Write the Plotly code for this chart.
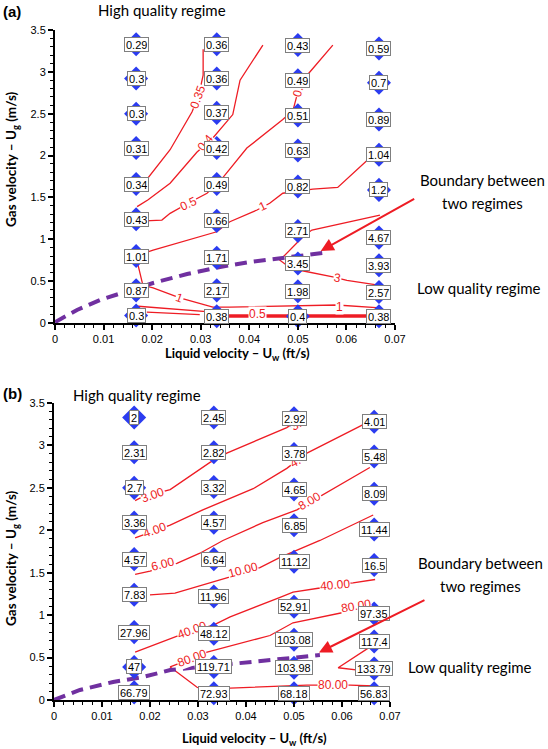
import plotly.graph_objects as go

W, H = 548, 749

# ---------------- data ----------------
UL = [0.0167, 0.0333, 0.05, 0.0667]          # liquid velocity of each column (ft/s)
UG_COL1 = [3.33, 2.92, 2.50, 2.09, 1.66, 1.24, 0.80, 0.39, 0.09]
UG_COL2 = [3.33, 2.92, 2.51, 2.09, 1.66, 1.22, 0.78, 0.39, 0.08]
UG_COL3 = [3.32, 2.90, 2.48, 2.06, 1.63, 1.10, 0.71, 0.38, 0.08]
UG_COL4 = [3.28, 2.87, 2.43, 2.01, 1.59, 1.02, 0.69, 0.37, 0.08]
UG = [UG_COL1, UG_COL2, UG_COL3, UG_COL4]

A_COL1 = [0.29, 0.3, 0.3, 0.31, 0.34, 0.43, 1.01, 0.87, 0.3]
A_COL2 = [0.36, 0.36, 0.37, 0.42, 0.49, 0.66, 1.71, 2.17, 0.38]
A_COL3 = [0.43, 0.49, 0.51, 0.63, 0.82, 2.71, 3.45, 1.98, 0.4]
A_COL4 = [0.59, 0.7, 0.89, 1.04, 1.2, 4.67, 3.93, 2.57, 0.38]
A_VALUES = [A_COL1, A_COL2, A_COL3, A_COL4]

B_COL1 = [2, 2.31, 2.7, 3.36, 4.57, 7.83, 27.96, 47, 66.79]
B_COL2 = [2.45, 2.82, 3.32, 4.57, 6.64, 11.96, 48.12, 119.71, 72.93]
B_COL3 = [2.92, 3.78, 4.65, 6.85, 11.12, 52.91, 103.08, 103.98, 68.18]
B_COL4 = [4.01, 5.48, 8.09, 11.44, 16.5, 97.35, 117.4, 133.79, 56.83]
B_VALUES = [B_COL1, B_COL2, B_COL3, B_COL4]

# contour lines, panel (a)
A_C035_X = [0.0305, 0.0305, 0.0296, 0.0282, 0.0237, 0.0191, 0.0181]
A_C035_Y = [3.27, 2.96, 2.72, 2.52, 2.07, 1.73, 1.70]
A_C04_X = [0.0428, 0.0381, 0.0366, 0.0325, 0.0292, 0.0237, 0.0191, 0.0169]
A_C04_Y = [3.32, 2.90, 2.49, 2.21, 2.04, 1.67, 1.47, 1.39]
A_C05_X = [0.0572, 0.0519, 0.0500, 0.0490, 0.0469, 0.0395, 0.0346, 0.0313, 0.0274, 0.0237, 0.0220, 0.0185]
A_C05_Y = [3.32, 2.96, 2.76, 2.54, 2.43, 2.09, 1.74, 1.55, 1.43, 1.31, 1.23, 1.22]
A_C1_X = [0.0644, 0.0582, 0.0531, 0.0469, 0.0442, 0.0416, 0.0360, 0.0333, 0.0202, 0.0171, 0.0171,
          0.0181, 0.0202, 0.0257, 0.0325, 0.0360, 0.0580, 0.0669]
A_C1_Y = [1.95, 1.62, 1.60, 1.55, 1.43, 1.35, 1.21, 1.09, 0.87, 0.81, 0.69,
          0.45, 0.42, 0.30, 0.19, 0.19, 0.215, 0.18]
A_C3_X = [0.0669, 0.0529, 0.0514, 0.0463, 0.0477, 0.0504, 0.0572, 0.0601, 0.0669]
A_C3_Y = [1.29, 1.11, 1.05, 0.75, 0.69, 0.63, 0.55, 0.51, 0.45]
A_CLOW1_X = [0.0171, 0.0325]
A_CLOW1_Y = [0.20, 0.13]
A_CLOW2_X = [0.0189, 0.0298]
A_CLOW2_Y = [0.13, 0.10]
A_CLOW3_X = [0.0325, 0.0669]
A_CLOW3_Y = [0.085, 0.085]

A_CLAB_TEXT = ["0.35", "0.4", "0.5", "0.", "1", "1", "1", "3", "0.5"]
A_CLAB_X = [0.0294, 0.0309, 0.0274, 0.0500, 0.0428, 0.0257, 0.0586, 0.0582, 0.0416]
A_CLAB_Y = [2.70, 2.15, 1.42, 2.76, 1.40, 0.30, 0.19, 0.54, 0.11]
A_CLAB_ANGLE = [-70, -50, -25, -75, -25, 20, 0, 10, 0]

# contour lines, panel (b)
B_C3_X = [0.0169, 0.0183, 0.0242, 0.0325, 0.0360, 0.0485, 0.0506]
B_C3_Y = [2.35, 2.39, 2.48, 2.80, 2.91, 3.21, 3.29]
B_C4_X = [0.0169, 0.0242, 0.0310, 0.0415, 0.0485, 0.0527, 0.0642]
B_C4_Y = [1.91, 2.06, 2.24, 2.49, 2.73, 2.91, 3.24]
B_C6_X = [0.0169, 0.0200, 0.0256, 0.0304, 0.0352, 0.0435, 0.0506, 0.0533, 0.0560, 0.0658]
B_C6_Y = [1.48, 1.52, 1.61, 1.73, 1.88, 2.09, 2.24, 2.33, 2.41, 2.74]
B_C10_X = [0.0200, 0.0252, 0.0367, 0.0429, 0.0471, 0.0554, 0.0665]
B_C10_Y = [1.24, 1.26, 1.45, 1.56, 1.68, 1.88, 2.18]
B_C40_X = [0.0169, 0.0235, 0.0288, 0.0331, 0.0367, 0.0471, 0.0498, 0.0554, 0.0585, 0.0623, 0.0669]
B_C40_Y = [0.565, 0.71, 0.82, 0.88, 0.98, 1.21, 1.27, 1.32, 1.36, 1.38, 1.42]
B_C80_X = [0.0669, 0.0638, 0.0610, 0.0498, 0.0450, 0.0415, 0.0319, 0.0288, 0.0242, 0.0298, 0.0329,
           0.0367, 0.0485, 0.0527, 0.0581, 0.0617, 0.0669]
B_C80_Y = [1.12, 1.09, 1.04, 0.91, 0.76, 0.71, 0.565, 0.49, 0.39, 0.15, 0.08,
           0.14, 0.165, 0.176, 0.176, 0.176, 0.165]
B_C120_X = [0.0665, 0.0592, 0.0638]
B_C120_Y = [0.65, 0.38, 0.35]

B_CLAB_TEXT = ["3.00", "4.00", "6.00", "8.00", "4.", "3.", "10.00", "40.00", "40.00", "80.00", "80.00", "80.00"]
B_CLAB_X = [0.0206, 0.0210, 0.0227, 0.0533, 0.0502, 0.0504, 0.0394, 0.0288, 0.0585, 0.0288, 0.0630, 0.0581]
B_CLAB_Y = [2.41, 2.00, 1.60, 2.34, 2.81, 3.24, 1.53, 0.82, 1.36, 0.49, 1.11, 0.176]
B_CLAB_ANGLE = [-20, -20, -15, -30, -30, -30, -15, -20, -5, -20, -10, 0]

# regime boundaries
BND_A_X = [0, 0.00453, 0.00926, 0.0144, 0.0202, 0.0272, 0.0340, 0.0401, 0.0463, 0.0551]
BND_A_Y = [0.01, 0.155, 0.275, 0.370, 0.478, 0.585, 0.669, 0.729, 0.777, 0.836]
BND_B_X = [0, 0.0054, 0.0123, 0.0185, 0.0242, 0.0346, 0.0450, 0.0554]
BND_B_Y = [0, 0.118, 0.212, 0.271, 0.353, 0.412, 0.471, 0.529]

# ---------------- figure ----------------
RED = "#ee1c24"
BLUE = "#2b3cf0"
PURPLE = "#7030a0"
TXT_FONT = "Lato, Noto Sans, sans-serif"
NUM_FONT = "Liberation Sans, Arial, sans-serif"


def px(x):
    return x / W


def py(y):
    return 1 - y / H


fig = go.Figure()
annotations = []


def add_panel(xa, ya, contours, clab, bnd, values):
    xref, yref = xa, ya
    for cx, cy, lw in contours:
        fig.add_trace(go.Scatter(x=cx, y=cy, mode="lines", xaxis=xref, yaxis=yref,
                                 line=dict(color=RED, width=lw), hoverinfo="skip", showlegend=False))
    fig.add_trace(go.Scatter(x=bnd[0], y=bnd[1], mode="lines", xaxis=xref, yaxis=yref,
                             line=dict(color=PURPLE, width=4, dash="12px,7px"),
                             hoverinfo="skip", showlegend=False))
    for i in range(4):
        fig.add_trace(go.Scatter(x=[UL[i]] * len(UG[i]), y=UG[i], mode="markers", xaxis=xref, yaxis=yref,
                                 marker=dict(symbol="diamond", size=18.5, color=BLUE),
                                 hoverinfo="skip", showlegend=False, cliponaxis=False))
    for t, x, y, a in zip(*clab):
        annotations.append(dict(x=x, y=y, xref=xref, yref=yref, text=t, showarrow=False, textangle=a,
                                font=dict(family=NUM_FONT, size=12, color=RED),
                                bgcolor="white", borderpad=0))
    for i in range(4):
        for v, y in zip(values[i], UG[i]):
            annotations.append(dict(x=UL[i], y=y, xref=xref, yref=yref, text=f"{v:g}", showarrow=False,
                                    font=dict(family=NUM_FONT, size=11, color="black"), height=11,
                                    bgcolor="white", bordercolor="#7f7f7f", borderwidth=1, borderpad=1))


add_panel("x", "y",
          [(A_C035_X, A_C035_Y, 1.3), (A_C04_X, A_C04_Y, 1.3), (A_C05_X, A_C05_Y, 1.3),
           (A_C1_X, A_C1_Y, 1.3), (A_C3_X, A_C3_Y, 1.3), (A_CLOW1_X, A_CLOW1_Y, 1.3),
           (A_CLOW2_X, A_CLOW2_Y, 1.3), (A_CLOW3_X, A_CLOW3_Y, 3.5)],
          (A_CLAB_TEXT, A_CLAB_X, A_CLAB_Y, A_CLAB_ANGLE), (BND_A_X, BND_A_Y), A_VALUES)
add_panel("x2", "y2",
          [(B_C3_X, B_C3_Y, 1.3), (B_C4_X, B_C4_Y, 1.3), (B_C6_X, B_C6_Y, 1.3), (B_C10_X, B_C10_Y, 1.3),
           (B_C40_X, B_C40_Y, 1.3), (B_C80_X, B_C80_Y, 1.3), (B_C120_X, B_C120_Y, 1.3)],
          (B_CLAB_TEXT, B_CLAB_X, B_CLAB_Y, B_CLAB_ANGLE), (BND_B_X, BND_B_Y), B_VALUES)

# arrows to the boundary
annotations.append(dict(x=0.0547, y=0.86, xref="x", yref="y", ax=95, ay=-53, text="", showarrow=True,
                        arrowcolor=RED, arrowwidth=2, arrowhead=2, arrowsize=1.3, standoff=0))
annotations.append(dict(x=0.0552, y=0.56, xref="x2", yref="y2", ax=107, ay=-53, text="", showarrow=True,
                        arrowcolor=RED, arrowwidth=2, arrowhead=2, arrowsize=1.3, standoff=0))


def paper_text(x, y, text, size, bold=False, angle=0, family=TXT_FONT):
    annotations.append(dict(x=px(x), y=py(y), xref="paper", yref="paper", showarrow=False,
                            text=f"<b>{text}</b>" if bold else text, textangle=angle,
                            xanchor="center", yanchor="middle",
                            font=dict(family=family, size=size, color="black")))


paper_text(12, 12, "(a)", 15, bold=True, family=NUM_FONT)
paper_text(12, 393, "(b)", 15, bold=True, family=NUM_FONT)
paper_text(162, 10, "High quality regime", 15)
paper_text(137, 395, "High quality regime", 15)
paper_text(482, 180, "Boundary between", 15)
paper_text(482, 203, "two regimes", 15)
paper_text(479, 288, "Low quality regime", 15)
paper_text(480, 563, "Boundary between", 15)
paper_text(480, 586, "two regimes", 15)
paper_text(470, 667, "Low quality regime", 15)
paper_text(12, 159, "Gas velocity – U<sub>g</sub> (m/s)", 13.5, bold=True, angle=-90)
paper_text(12, 558, "Gas velocity – U<sub>g</sub> (m/s)", 13.5, bold=True, angle=-90)
paper_text(237, 354, "Liquid velocity – U<sub>w</sub> (ft/s)", 13, bold=True)
paper_text(254, 739, "Liquid velocity – U<sub>w</sub> (ft/s)", 13, bold=True)

axis_common = dict(showgrid=False, zeroline=False, showline=True, linecolor="black", linewidth=2,
                   ticks="outside", ticklen=5, tickwidth=2, tickcolor="black", automargin=False,
                   tickfont=dict(family=NUM_FONT, size=11, color="black"))
xa = dict(axis_common, range=[0, 0.07], tick0=0, dtick=0.01,
          minor=dict(ticks="outside", ticklen=3, tickwidth=1, tickcolor="black", dtick=0.002, showgrid=False))
ya = dict(axis_common, range=[0, 3.5], tick0=0, dtick=0.5,
          minor=dict(ticks="outside", ticklen=3, tickwidth=1, tickcolor="black", dtick=0.1, showgrid=False))

fig.update_layout(
    width=W, height=H, margin=dict(l=0, r=0, t=0, b=0),
    paper_bgcolor="white", plot_bgcolor="white", showlegend=False,
    xaxis=dict(xa, domain=[px(55), px(395)], anchor="y"),
    yaxis=dict(ya, domain=[py(323), py(30)], anchor="x"),
    xaxis2=dict(xa, domain=[px(54), px(390)], anchor="y2"),
    yaxis2=dict(ya, domain=[py(700), py(403)], anchor="x2"),
    annotations=annotations,
)

fig.write_html("out.html", config={"displayModeBar": False},
               post_script="document.body.style.margin='0';document.body.style.padding='0';")
